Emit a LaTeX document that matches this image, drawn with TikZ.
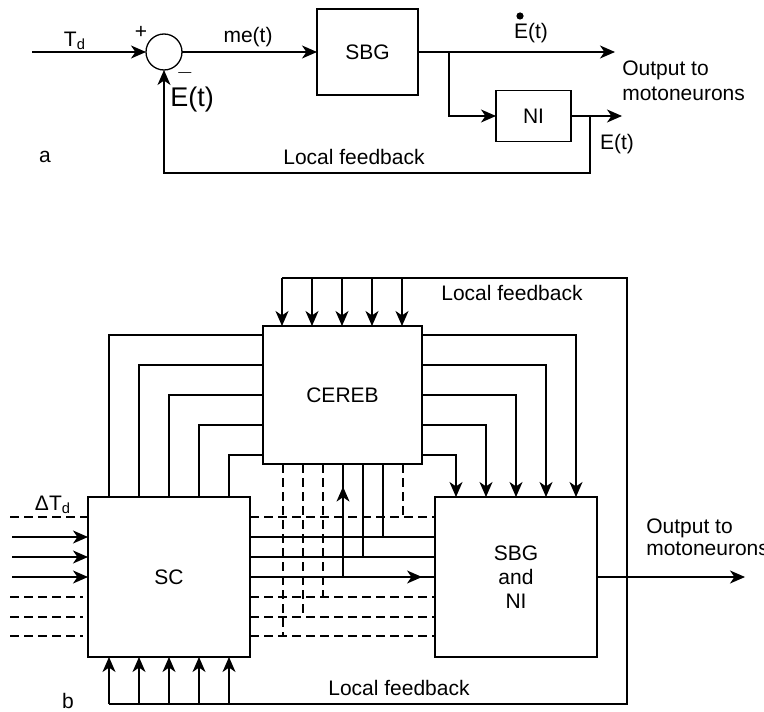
\documentclass[tikz,border=0pt]{standalone}
\usepackage{fontspec}
\setmainfont{Liberation Sans}
\usetikzlibrary{arrows.meta,decorations.markings}
\begin{document}
\begin{tikzpicture}[x=0.5pt, y=-0.5pt, line width=0.65pt,
  >={Stealth[length=7.5pt,width=6.5pt,inset=2.2pt]},
  every node/.style={font=\fontsize{10.5}{12.5}\selectfont},
  blk/.style={draw, inner sep=0pt, outer sep=0pt},
  dsh/.style={dash pattern=on 4.5pt off 2.5pt},
  midarr/.style={postaction={decorate, decoration={markings, mark=at position #1 with {\arrow{>}}}}}]
  \useasboundingbox (0,0) rectangle (764,711);

  % (a) loop
  \node[blk, circle, minimum size=18pt] (sum) at (164,52) {};
  \node[blk, minimum width=50.5pt, minimum height=43pt] (sbga) at (367.5,52) {SBG};
  \node[blk, minimum width=37.5pt, minimum height=25.5pt] (ni) at (533.5,116) {NI};
  \coordinate (tdin) at (32,52);
  \coordinate (outa) at (615,52);
  \coordinate (eout) at (622,116);
  \draw[->] (tdin) -- (sum.west);
  \draw[->] (sum.east) -- (sbga.west);
  \draw[->] (sbga.east) -- (outa);
  \draw[->] (sbga.east -| 449,0) |- (ni.west);
  \draw[->] (ni.east) -- (eout);
  \draw[->] (ni.east -| 590,0) -- (590,173) -| (sum.south);
  \node at (75,41) {T\textsubscript{d}};
  \node at (141,32) {+};
  \node at (185,73) {$-$};
  \node[font=\fontsize{13.5}{16}\selectfont] at (192,100) {E(t)};
  \node at (248,37) {me(t)};
  \node (edot) at (531,33) {E(t)};
  \fill (520,16) circle[radius=1.8pt];
  \node at (617,144) {E(t)};
  \node[align=left, anchor=west] at (615,80.5) {Output to\\motoneurons};
  \node at (354,157) {Local feedback};
  \node at (45,157) {a};

  % (b) SC, CEREB, SBG/NI
  \node[blk, minimum width=79.5pt, minimum height=69pt] (cereb) at (342.5,395) {CEREB};
  \node[blk, minimum width=81pt, minimum height=80pt] (sc) at (169,577) {SC};
  \node[blk, minimum width=81pt, minimum height=80pt, align=center,
    font=\fontsize{10.5}{12}\selectfont] (sbg) at (516,577) {SBG\\and\\NI};

  \foreach \y/\xl/\xr in {335/109/576,365/139/546,395/169/516,425/199/486,455/229/456}{
    \draw (cereb.west |- 0,\y) -| (sc.north -| \xl,0);
    \draw[->] (cereb.east |- 0,\y) -| (sbg.north -| \xr,0);
  }
  % local feedback round the top and bottom
  \coordinate (fbtop) at (627,278);
  \coordinate (fbbot) at (627,704);
  \draw (282,278) -- (fbtop) -- (fbbot) -- (109,704);
  \foreach \x in {282,312,342,372,402}
    \draw[->] (\x,278) -- (cereb.north -| \x,0);
  \foreach \x in {109,139,169,199,229}
    \draw[->] (\x,704) -- (sc.south -| \x,0);
  \node at (512,293) {Local feedback};
  \node at (399,688) {Local feedback};

  % SC -> SBG and CEREB taps
  \foreach \y/\s in {517/dsh,537/solid,557/solid,597/dsh,617/dsh,636/dsh}
    \draw[\s] (sc.east |- 0,\y) -- (sbg.west |- 0,\y);
  \draw[midarr=0.93] (sc.east |- 0,577) -- (sbg.west |- 0,577);
  \draw[dsh] (cereb.south -| 283,0) -- (283,636);
  \draw[dsh] (cereb.south -| 303,0) -- (303,617);
  \draw[dsh] (cereb.south -| 323,0) -- (323,597);
  \draw[midarr=0.8] (343,577) -- (cereb.south -| 343,0);
  \draw (cereb.south -| 363,0) -- (363,557);
  \draw (cereb.south -| 383,0) -- (383,537);
  \draw[dsh] (cereb.south -| 403,0) -- (403,517);

  % inputs to SC
  \draw[dsh] (10,517) -- (sc.west |- 0,517);
  \foreach \y in {537,557,577}
    \draw[->] (12,\y) -- (sc.west |- 0,\y);
  \foreach \y in {597,617,636}
    \draw[dsh] (10,\y) -- (83,\y);
  \node at (53,505) {ΔT\textsubscript{d}};

  \coordinate (outb) at (745,577);
  \draw[->] (sbg.east) -- (outb);
  \node[align=left, anchor=west, font=\fontsize{10.5}{10.8}\selectfont] at (639,537.5) {Output to\\motoneurons};
  \node at (68,701) {b};
\end{tikzpicture}
\end{document}
